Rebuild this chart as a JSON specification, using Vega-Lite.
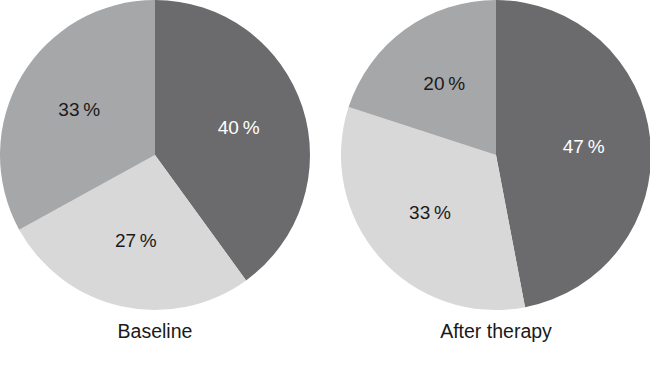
{
  "$schema": "https://vega.github.io/schema/vega-lite/v6.json",
  "padding": 0,
  "background": "white",
  "data": {"values": [
    {"panel": "Baseline", "group": "A", "pct": 40, "order": 1},
    {"panel": "Baseline", "group": "B", "pct": 27, "order": 2},
    {"panel": "Baseline", "group": "C", "pct": 33, "order": 3},
    {"panel": "After therapy", "group": "A", "pct": 47, "order": 1},
    {"panel": "After therapy", "group": "B", "pct": 33, "order": 2},
    {"panel": "After therapy", "group": "C", "pct": 20, "order": 3}
  ]},
  "transform": [{"calculate": "datum.pct + '\u2009%'", "as": "label"}],
  "facet": {"column": {"field": "panel", "type": "nominal", "sort": ["Baseline", "After therapy"],
    "header": {"title": null, "labelOrient": "bottom", "labelFontSize": 19.5, "labelFont": "Liberation Sans", "labelColor": "#1a1a1a", "labelPadding": 13}}},
  "spacing": 31,
  "spec": {
    "width": 310,
    "height": 310,
    "layer": [
      {"mark": {"type": "arc", "outerRadius": 155, "stroke": null},
       "encoding": {
         "theta": {"field": "pct", "type": "quantitative", "stack": true},
         "order": {"field": "order", "type": "quantitative"},
         "color": {"field": "group", "type": "nominal", "legend": null,
           "scale": {"domain": ["A", "B", "C"], "range": ["#6b6b6e", "#d8d8d9", "#a6a7a9"]}}
       }},
      {"mark": {"type": "text", "radius": 88, "fontSize": 19, "font": "Liberation Sans"},
       "encoding": {
         "theta": {"field": "pct", "type": "quantitative", "stack": true},
         "order": {"field": "order", "type": "quantitative"},
         "text": {"field": "label"},
         "color": {"condition": {"test": "datum.group === 'A'", "value": "#ffffff"}, "value": "#1a1a1a"}
       }}
    ]
  },
  "resolve": {"scale": {"theta": "independent"}},
  "config": {"view": {"stroke": null}}
}
